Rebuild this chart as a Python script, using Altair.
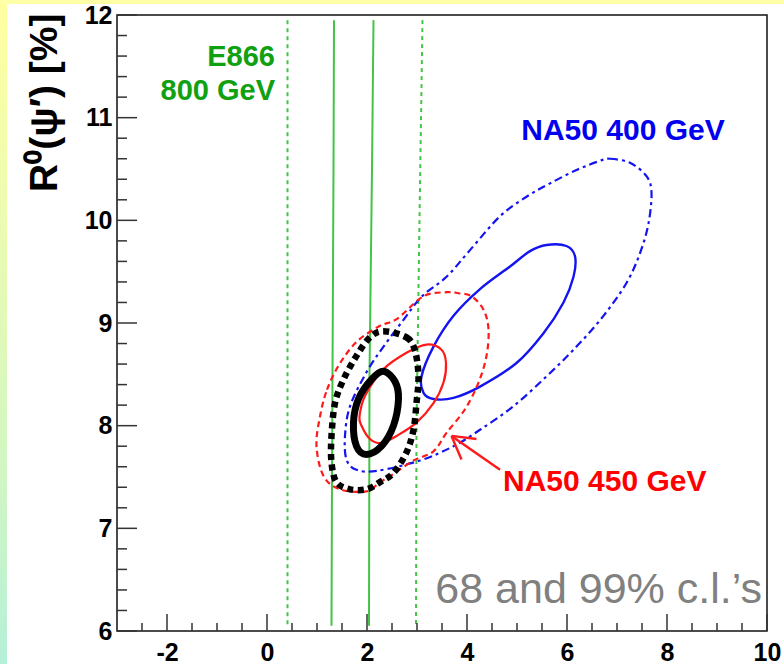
import altair as alt
import pandas as pd
import numpy as np

FONT = "Liberation Sans"

# ---------------- data ----------------
# E866 800 GeV bands (vertical lines): solid = 68 %, dashed = 99 %
e866_solid_a_x = [1.34, 1.33, 1.31, 1.30, 1.29]
e866_solid_a_y = [11.95, 10.5, 8.5, 7.5, 6.05]
e866_solid_b_x = [2.13, 2.10, 2.05, 2.04]
e866_solid_b_y = [11.95, 10.5, 8.5, 6.05]
e866_dash_a_x = [0.41, 0.41]
e866_dash_a_y = [11.95, 6.05]
e866_dash_b_x = [3.11, 3.05, 2.99, 2.98]
e866_dash_b_y = [11.95, 10.0, 8.0, 6.05]

# NA50 400 GeV contours
na400_68_x = [5.59, 5.99, 6.16, 6.13, 5.93, 5.53, 4.99, 4.26, 3.73, 3.33, 3.13, 3.09, 3.33, 3.73, 4.26, 4.86, 5.26]
na400_68_y = [9.76, 9.75, 9.65, 9.45, 9.20, 8.90, 8.61, 8.38, 8.27, 8.26, 8.32, 8.48, 8.77, 9.07, 9.33, 9.55, 9.70]
na400_99_x = [6.66, 6.86, 7.26, 7.59, 7.69, 7.63, 7.46, 7.19, 6.73, 6.19, 5.59, 4.93, 4.26, 3.73, 3.06, 2.20,
              1.79, 1.59, 1.56, 1.66, 1.99, 2.33, 2.73, 3.10, 3.59, 4.06, 4.66, 5.19, 5.66, 6.19]
na400_99_y = [10.58, 10.60, 10.56, 10.43, 10.27, 9.97, 9.68, 9.39, 9.07, 8.77, 8.48, 8.19, 7.96, 7.80, 7.66, 7.56,
              7.57, 7.67, 7.90, 8.19, 8.52, 8.77, 9.03, 9.26, 9.45, 9.71, 10.04, 10.23, 10.36, 10.49]

# NA50 450 GeV contours
na450_68_x = [3.19, 3.49, 3.58, 3.53, 3.33, 2.99, 2.59, 2.29, 2.06, 1.89, 1.85, 1.96, 2.33, 2.79]
na450_68_y = [8.79, 8.74, 8.61, 8.42, 8.22, 8.03, 7.90, 7.83, 7.87, 8.00, 8.09, 8.29, 8.55, 8.71]
na450_99_x = [1.06, 1.20, 1.45, 1.80, 2.25, 2.60, 3.13, 3.60, 3.83, 4.09, 4.33, 4.43, 4.39, 4.23, 3.96,
              3.59, 3.33, 2.93, 2.50, 2.26, 1.99, 1.46, 1.13, 0.99]
na450_99_y = [8.09, 8.35, 8.60, 8.82, 8.97, 9.04, 9.26, 9.30, 9.29, 9.26, 9.13, 8.94, 8.68, 8.42, 8.16,
              7.93, 7.75, 7.66, 7.52, 7.45, 7.36, 7.38, 7.51, 7.80]

# combined fit (black)
comb_68_x = [2.33, 2.56, 2.63, 2.53, 2.29, 1.99, 1.79, 1.73, 1.83, 2.09]
comb_68_y = [8.53, 8.43, 8.26, 8.00, 7.80, 7.72, 7.80, 8.03, 8.26, 8.45]
comb_99_x = [2.33, 2.79, 2.96, 3.03, 2.99, 2.93, 2.79, 2.53, 2.26, 1.99, 1.66, 1.39, 1.29, 1.29, 1.36, 1.53, 1.79, 2.06]
comb_99_y = [8.92, 8.86, 8.73, 8.48, 8.22, 7.96, 7.74, 7.54, 7.45, 7.38, 7.38, 7.45, 7.64, 7.90, 8.22, 8.45, 8.68, 8.86]

# arrow pointing to the NA50 450 GeV contour
arrow_x1 = [4.66, 3.69, 3.69]
arrow_y1 = [7.57, 7.90, 7.90]
arrow_x2 = [3.69, 4.19, 3.89]
arrow_y2 = [7.90, 7.87, 7.67]

# annotations
ann_text = ["E866", "800 GeV", "NA50 400 GeV", "NA50 450 GeV", "68 and 99% c.l.\u2019s"]
ann_x = [0.16, 0.16, 7.12, 4.72, 9.90]
ann_y = [11.50, 11.17, 10.78, 7.36, 6.27]

# axis ticks
x_major = [-2, 0, 2, 4, 6, 8, 10]
y_major = [6, 7, 8, 9, 10, 11, 12]
x_minor = [float(v) for v in np.arange(-2.5, 10.0, 0.5) if v not in x_major]
y_minor = [round(float(v), 1) for v in np.arange(6.2, 12.0, 0.2) if round(float(v), 1) not in y_major]

# ---------------- chart ----------------
W, H = 650, 616
XS = alt.Scale(domain=[-3, 10], nice=False, zero=False)
YS = alt.Scale(domain=[6, 12], nice=False, zero=False)
TITLE = "R\u2070(\u03c8\u2032) [%]"

XAX = alt.Axis(values=x_major, ticks=False, domain=False, grid=False, labelFont=FONT,
               labelFontWeight="bold", labelFontSize=25, labelColor="black", labelPadding=9,
               labelFlush=False, labelOverlap=False, labelExpr="'' + datum.value", title=None)
YAX = alt.Axis(values=y_major, ticks=False, domain=False, grid=False, labelFont=FONT,
               labelFontWeight="bold", labelFontSize=25, labelColor="black", labelPadding=5,
               labelFlush=False, labelOverlap=False, labelBaseline="middle",
               labelExpr="'' + datum.value",
               title=TITLE, titleFont=FONT, titleFontSize=39,
               titleFontWeight="bold", titleColor="black", titleAngle=270, titleAlign="right",
               titleBaseline="alphabetic", titleX=-61, titleY=-2)


def X(field):
    return alt.X(field, scale=XS, axis=XAX, title=None)


def Y(field):
    return alt.Y(field, scale=YS, axis=YAX, title=TITLE)


def path_df(xs, ys):
    return pd.DataFrame({"x": xs, "y": ys, "o": list(range(len(xs)))})


def contour(xs, ys, color, width, dash=None, closed=True):
    kw = dict(color=color, strokeWidth=width, interpolate="cardinal-closed" if closed else "linear",
              strokeCap="butt", strokeJoin="round")
    if dash:
        kw["strokeDash"] = dash
    return alt.Chart(path_df(xs, ys)).mark_line(**kw).encode(
        x=X("x:Q"), y=Y("y:Q"), order="o:Q")


GREEN = "#44c444"
BLUE = "#1414f0"
RED = "#ff1a1a"

layers = []

# decorative slide background strips
one = pd.DataFrame({"a": [0]})
grad = alt.LinearGradient(gradient="linear", x1=0, x2=0, y1=0, y2=1,
                          stops=[alt.GradientStop(color="#ffffa0", offset=0),
                                 alt.GradientStop(color="#eefcb0", offset=0.3),
                                 alt.GradientStop(color="#d2f6c2", offset=0.7),
                                 alt.GradientStop(color="#b5f0d8", offset=1)])
layers.append(alt.Chart(one).mark_rect(fill=grad).encode(
    x=alt.value(-117), x2=alt.value(-110), y=alt.value(-15), y2=alt.value(649)))
layers.append(alt.Chart(one).mark_rect(fill="#ffffa8").encode(
    x=alt.value(-117), x2=alt.value(667), y=alt.value(-15), y2=alt.value(-11)))

layers.append(contour(e866_dash_a_x, e866_dash_a_y, GREEN, 2, [4, 4], closed=False))
layers.append(contour(e866_dash_b_x, e866_dash_b_y, GREEN, 2, [4, 4], closed=False))
layers.append(contour(e866_solid_a_x, e866_solid_a_y, GREEN, 2, closed=False))
layers.append(contour(e866_solid_b_x, e866_solid_b_y, GREEN, 2, closed=False))

layers.append(contour(na400_99_x, na400_99_y, BLUE, 2.2, [8, 4, 3, 4]))
layers.append(contour(na400_68_x, na400_68_y, BLUE, 2.4))
layers.append(contour(na450_99_x, na450_99_y, RED, 2.2, [6, 4]))
layers.append(contour(na450_68_x, na450_68_y, RED, 2.2))
layers.append(contour(comb_99_x, comb_99_y, "black", 6.5, [6, 4.5]))
layers.append(contour(comb_68_x, comb_68_y, "black", 7))

arrow_df = pd.DataFrame({"x": arrow_x1, "y": arrow_y1, "x2": arrow_x2, "y2": arrow_y2})
layers.append(alt.Chart(arrow_df).mark_rule(color=RED, strokeWidth=2.4).encode(
    x=X("x:Q"), y=Y("y:Q"), x2="x2:Q", y2="y2:Q"))

# ticks drawn inwards
xmaj_df = pd.DataFrame({"x": x_major})
xmin_df = pd.DataFrame({"x": x_minor})
ymaj_df = pd.DataFrame({"y": y_major})
ymin_df = pd.DataFrame({"y": y_minor})
TICK = dict(color="#333333", strokeWidth=1.5)
layers.append(alt.Chart(xmaj_df).mark_rule(**TICK).encode(
    x=X("x:Q"), y=alt.value(H), y2=alt.value(H - 17)))
layers.append(alt.Chart(xmin_df).mark_rule(**TICK).encode(
    x=X("x:Q"), y=alt.value(H), y2=alt.value(H - 8)))
layers.append(alt.Chart(ymaj_df).mark_rule(**TICK).encode(
    y=Y("y:Q"), x=alt.value(0), x2=alt.value(20)))
layers.append(alt.Chart(ymin_df).mark_rule(**TICK).encode(
    y=Y("y:Q"), x=alt.value(0), x2=alt.value(10)))

# annotations
ann = pd.DataFrame({"t": ann_text, "x": ann_x, "y": ann_y})


def label(i, color, size, weight, align):
    return alt.Chart(ann.iloc[[i]]).mark_text(
        font=FONT, fontSize=size, fontWeight=weight, color=color, align=align, baseline="alphabetic"
    ).encode(x=X("x:Q"), y=Y("y:Q"), text="t:N")


TEXT_GREEN = "#10a010"
layers.append(label(0, TEXT_GREEN, 29, "bold", "right"))
layers.append(label(1, TEXT_GREEN, 29, "bold", "right"))
layers.append(label(2, "#0000ee", 30, "bold", "center"))
layers.append(label(3, "#ff0000", 30, "bold", "left"))
layers.append(label(4, "#808080", 43, "normal", "right"))

chart = alt.layer(*layers).properties(
    width=W, height=H,
    autosize=alt.AutoSizeParams(type="none"),
    padding={"left": 117, "top": 15, "right": 17, "bottom": 33},
    background="white",
).configure_view(stroke="#111111", strokeWidth=1.5)

chart.save("out.html", embed_options={"renderer": "svg", "actions": False})
